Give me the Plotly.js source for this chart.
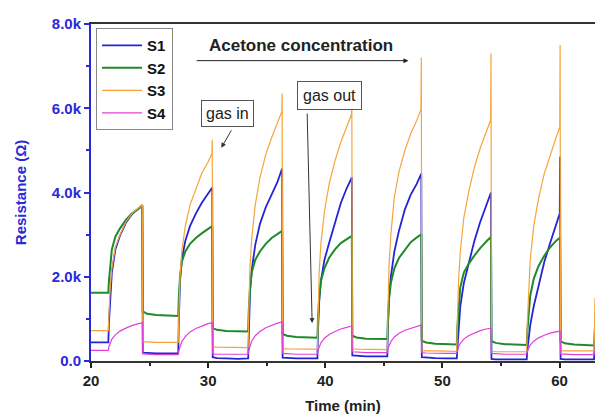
<!DOCTYPE html>
<html>
<head>
<meta charset="utf-8">
<script src="https://cdn.plot.ly/plotly-3.0.1.min.js"></script>
<style>html,body{margin:0;padding:0;background:#fff;}#chart{width:595px;height:417px;}</style>
</head>
<body>
<div id="chart"></div>
<script>
// Time (min)
const time = [
  20.0, 20.8,
  21.48, 21.53, 21.63, 21.78, 22.08, 22.48, 22.98, 23.48, 23.98, 24.35, 24.38, 24.42, 24.78, 25.58, 26.58,
  27.45, 27.50, 27.60, 27.75, 28.05, 28.45, 28.95, 29.45, 29.95, 30.32, 30.35, 30.39, 30.75, 31.55, 32.55,
  33.42, 33.47, 33.57, 33.72, 34.02, 34.42, 34.92, 35.42, 35.92, 36.29, 36.32, 36.36, 36.72, 37.52, 38.52,
  39.33, 39.38, 39.48, 39.63, 39.93, 40.33, 40.83, 41.33, 41.83, 42.24, 42.27, 42.31, 42.67, 43.47, 44.47,
  45.30, 45.35, 45.45, 45.60, 45.90, 46.30, 46.80, 47.30, 47.80, 48.17, 48.20, 48.24, 48.60, 49.40, 50.40,
  51.23, 51.28, 51.38, 51.53, 51.83, 52.23, 52.73, 53.23, 53.73, 54.12, 54.15, 54.19, 54.55, 55.35, 56.35,
  57.20, 57.25, 57.35, 57.50, 57.80, 58.20, 58.70, 59.20, 59.70, 60.02, 60.05, 60.09, 60.45, 61.25, 62.25,
  62.95, 63.03
];
// Resistance in kOhm
const s1_kOhm = [
  0.44, 0.44,
  0.44, 0.9, 1.5, 2.1, 2.65, 2.98, 3.28, 3.48, 3.6, 3.67, 3.68, 0.2, 0.19, 0.18, 0.18,
  0.18, 1.0, 1.9, 2.4, 2.85, 3.2, 3.5, 3.75, 3.95, 4.12, 4.12, 0.09, 0.07, 0.06, 0.05,
  0.06, 0.8, 1.6, 2.15, 2.75, 3.25, 3.65, 3.95, 4.25, 4.55, 4.55, 0.08, 0.07, 0.06, 0.06,
  0.06, 0.7, 1.4, 1.9, 2.4, 2.8, 3.3, 3.75, 4.1, 4.36, 4.36, 0.13, 0.12, 0.11, 0.11,
  0.11, 0.8, 1.5, 2.0, 2.6, 3.1, 3.6, 3.95, 4.2, 4.43, 4.43, 0.09, 0.08, 0.07, 0.06,
  0.06, 0.3, 0.8, 1.3, 1.85, 2.3, 2.85, 3.3, 3.7, 4.0, 4.0, 0.05, 0.04, 0.04, 0.04,
  0.04, 0.25, 0.55, 0.85, 1.3, 1.8, 2.35, 2.8, 3.2, 3.5, 4.85, 0.05, 0.04, 0.04, 0.04,
  0.04, 0.6
];
const s2_kOhm = [
  1.62, 1.62,
  1.62, 1.9, 2.3, 2.65, 2.95, 3.15, 3.35, 3.5, 3.6, 3.68, 3.7, 1.18, 1.12, 1.09, 1.07,
  1.07, 1.5, 2.0, 2.35, 2.6, 2.78, 2.92, 3.03, 3.12, 3.2, 3.2, 0.78, 0.74, 0.71, 0.7,
  0.7, 1.2, 1.7, 2.1, 2.4, 2.6, 2.78, 2.92, 3.02, 3.09, 3.09, 0.64, 0.6, 0.57, 0.55,
  0.55, 1.0, 1.5, 1.9, 2.2, 2.45, 2.65, 2.8, 2.9, 2.97, 2.97, 0.6, 0.56, 0.53, 0.52,
  0.52, 1.0, 1.5, 1.85, 2.2, 2.45, 2.65, 2.82, 2.93, 3.01, 3.01, 0.48, 0.44, 0.41, 0.39,
  0.39, 0.8, 1.3, 1.75, 2.1, 2.3, 2.5, 2.68, 2.83, 2.95, 2.95, 0.47, 0.43, 0.4, 0.38,
  0.38, 0.7, 1.15, 1.55, 1.95, 2.25, 2.5, 2.7, 2.85, 2.93, 2.93, 0.47, 0.42, 0.39, 0.37,
  0.37, 0.8
];
const s3_kOhm = [
  0.72, 0.72,
  0.72, 1.1, 1.7, 2.2, 2.7, 3.0, 3.3, 3.5, 3.62, 3.68, 3.72, 0.46, 0.45, 0.44, 0.44,
  0.44, 1.1, 2.0, 2.6, 3.2, 3.7, 4.1, 4.45, 4.7, 4.92, 5.25, 0.34, 0.33, 0.33, 0.32,
  0.32, 1.2, 2.2, 2.9, 3.7, 4.35, 4.9, 5.3, 5.65, 5.92, 6.35, 0.3, 0.29, 0.28, 0.28,
  0.28, 1.1, 2.1, 2.8, 3.55, 4.2, 4.75, 5.2, 5.55, 5.85, 6.05, 0.29, 0.28, 0.28, 0.27,
  0.27, 1.2, 2.3, 3.0, 3.9, 4.5, 5.0, 5.4, 5.7, 5.98, 7.2, 0.25, 0.24, 0.24, 0.23,
  0.23, 1.0, 1.9, 2.6, 3.4, 4.0, 4.6, 5.05, 5.45, 5.72, 7.3, 0.23, 0.22, 0.22, 0.22,
  0.22, 0.9, 1.7, 2.4, 3.2, 3.85, 4.45, 4.9, 5.3, 5.55, 7.5, 0.25, 0.24, 0.24, 0.24,
  0.24, 1.5
];
const s4_kOhm = [
  0.25, 0.25,
  0.25, 0.34, 0.43, 0.52, 0.62, 0.71, 0.78, 0.84, 0.88, 0.91, 0.91, 0.17, 0.16, 0.15, 0.15,
  0.15, 0.25, 0.36, 0.46, 0.58, 0.69, 0.77, 0.83, 0.88, 0.91, 0.91, 0.17, 0.16, 0.16, 0.16,
  0.16, 0.26, 0.37, 0.47, 0.6, 0.7, 0.79, 0.85, 0.9, 0.93, 0.93, 0.18, 0.17, 0.16, 0.16,
  0.16, 0.25, 0.34, 0.43, 0.54, 0.63, 0.7, 0.76, 0.8, 0.83, 0.83, 0.22, 0.21, 0.2, 0.2,
  0.2, 0.29, 0.38, 0.46, 0.57, 0.66, 0.73, 0.78, 0.82, 0.85, 0.85, 0.2, 0.19, 0.18, 0.18,
  0.18, 0.26, 0.34, 0.42, 0.52, 0.6, 0.67, 0.72, 0.76, 0.78, 0.78, 0.18, 0.17, 0.16, 0.16,
  0.16, 0.23, 0.31, 0.38, 0.47, 0.55, 0.61, 0.66, 0.69, 0.71, 0.71, 0.17, 0.16, 0.15, 0.15,
  0.15, 0.25
];
const seriesNames = ['S1', 'S2', 'S3', 'S4'];
const yTickVals = [0, 2000, 4000, 6000, 8000];
const yTickText = ['0.0', '2.0k', '4.0k', '6.0k', '8.0k'];
const xTickVals = [20, 30, 40, 50, 60];

const toOhm = a => a.map(v => v * 1000);
const seriesData = [s1_kOhm, s2_kOhm, s3_kOhm, s4_kOhm];
const colors = ['#2424d6', '#1f8a2a', '#f5a43c', '#e040d8'];
const widths = [1.8, 2.0, 1.2, 1.2];

const FONT = 'Liberation Sans, Arial, sans-serif';
const BLUE = '#2a2ad8';

const traces = seriesData.map((d, i) => ({
  x: time, y: toOhm(d), type: 'scatter', mode: 'lines', name: seriesNames[i],
  line: {color: colors[i], width: widths[i]}, legendgroup: 'g' + i
}));

const layout = {
  width: 595, height: 417,
  margin: {l: 91, r: 0, t: 24, b: 56},
  paper_bgcolor: '#fff', plot_bgcolor: '#fff',
  font: {family: FONT},
  showlegend: true,
  legend: {
    x: 0.01, y: 0.988, xanchor: 'left', yanchor: 'top',
    bgcolor: '#fff', bordercolor: '#888', borderwidth: 1,
    font: {family: FONT, size: 15, weight: 'bold', color: '#111'},
    tracegroupgap: 0, itemwidth: 40
  },
  xaxis: {
    range: [20, 63.03], tickvals: xTickVals, ticks: 'outside', ticklen: 5, tickwidth: 2,
    tickcolor: '#222', showline: true, linewidth: 2, linecolor: '#333', mirror: true,
    showgrid: false, zeroline: false,
    minor: {tickvals: [25, 35, 45, 55], ticks: 'outside', ticklen: 3, tickwidth: 2, tickcolor: '#222', showgrid: false},
    tickfont: {family: FONT, size: 15, weight: 'bold', color: '#222'},
    title: {text: 'Time (min)', font: {family: FONT, size: 15, weight: 'bold', color: '#222'}, standoff: 12}
  },
  yaxis: {
    range: [0, 8000], tickvals: yTickVals, ticktext: yTickText, ticks: 'outside', ticklen: 5, tickwidth: 2,
    tickcolor: BLUE, showline: true, linewidth: 2, linecolor: BLUE, mirror: false,
    showgrid: false, zeroline: false,
    minor: {tickvals: [1000, 3000, 5000, 7000], ticks: 'outside', ticklen: 3, tickwidth: 2, tickcolor: BLUE, showgrid: false},
    tickfont: {family: FONT, size: 15, weight: 'bold', color: BLUE},
    title: {text: 'Resistance (\u03A9)', font: {family: FONT, size: 15, weight: 'bold', color: BLUE}, standoff: 22}
  },
  annotations: [
    {xref: 'x', yref: 'y', x: 37.9, y: 7480, text: 'Acetone concentration', showarrow: false,
     font: {family: FONT, size: 17, weight: 'bold', color: '#222'}},
    {xref: 'x', yref: 'y', x: 47.1, y: 7130, axref: 'x', ayref: 'y', ax: 28.9, ay: 7130, text: '',
     showarrow: true, arrowhead: 2, arrowsize: 1, arrowwidth: 1, arrowcolor: '#222'},
    {xref: 'x', yref: 'y', x: 31.63, y: 5870, text: 'gas in', showarrow: false,
     font: {family: FONT, size: 16, color: '#222'}, bordercolor: '#555', borderwidth: 1, borderpad: 4, bgcolor: '#fff'},
    {xref: 'x', yref: 'y', x: 31.12, y: 5060, text: '', showarrow: true, ax: 11, ay: -19,
     arrowhead: 2, arrowsize: 1, arrowwidth: 1, arrowcolor: '#333'},
    {xref: 'x', yref: 'y', x: 40.33, y: 6296, text: 'gas out', showarrow: false,
     font: {family: FONT, size: 16, color: '#222'}, bordercolor: '#555', borderwidth: 1, borderpad: 5, bgcolor: '#fff'},
    {xref: 'x', yref: 'y', x: 38.88, y: 900, text: '', showarrow: true, ax: -5, ay: -211,
     arrowhead: 2, arrowsize: 1, arrowwidth: 1, arrowcolor: '#333'}
  ]
};

Plotly.newPlot('chart', traces, layout, {displayModeBar: false, staticPlot: true});
</script>
</body>
</html>
